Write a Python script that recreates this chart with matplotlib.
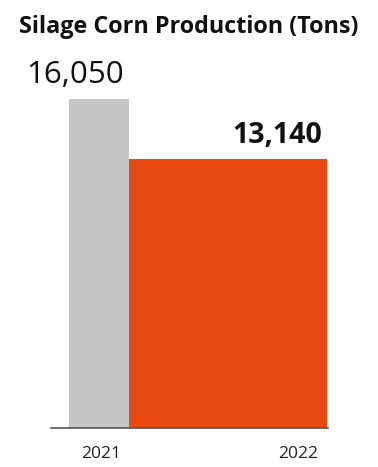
import matplotlib.pyplot as plt

years = ["2021", "2022"]
production = [16050, 13140]
labels = ["16,050", "13,140"]

colors = ["#c6c6c6", "#e84910"]
lefts = [0, 1]
widths = [1, 3.3]

plt.rcParams['font.family'] = ['Open Sans', 'DejaVu Sans']

fig = plt.figure(figsize=(3.78, 4.67), dpi=100)
ax = fig.add_axes([51 / 378, 39 / 467, 277 / 378, 329 / 467])

ax.bar(lefts, production, width=widths, align='edge', color=colors)
ax.set_xlim(-0.3, 4.317)
ax.set_ylim(0, production[0])

# value labels
ax.annotate(labels[0], xy=(lefts[0], production[0]), xytext=(4.3, 11.5),
            textcoords='offset points', ha='center', va='baseline',
            fontsize=22.5, color='#111111', annotation_clip=False)
ax.annotate(labels[1], xy=(lefts[1] + widths[1], production[1]), xytext=(-3.6, 11.5),
            textcoords='offset points', ha='right', va='baseline',
            fontsize=20.5, fontweight='bold', color='#111111', annotation_clip=False)

ax.set_xticks([0.53, 3.82])
ax.set_xticklabels(years, fontsize=12.5, color='#222222')
ax.tick_params(axis='x', length=0, pad=13)
ax.set_yticks([])
for side in ['top', 'right', 'left']:
    ax.spines[side].set_visible(False)
ax.spines['bottom'].set_color('#555555')
ax.spines['bottom'].set_linewidth(1.2)

fig.text(0.5, 1 - 33 / 467, "Silage Corn Production (Tons)", ha='center', va='baseline',
         fontsize=16.8, fontweight='bold', color='#111111')

fig.savefig("out.png", dpi=100)
